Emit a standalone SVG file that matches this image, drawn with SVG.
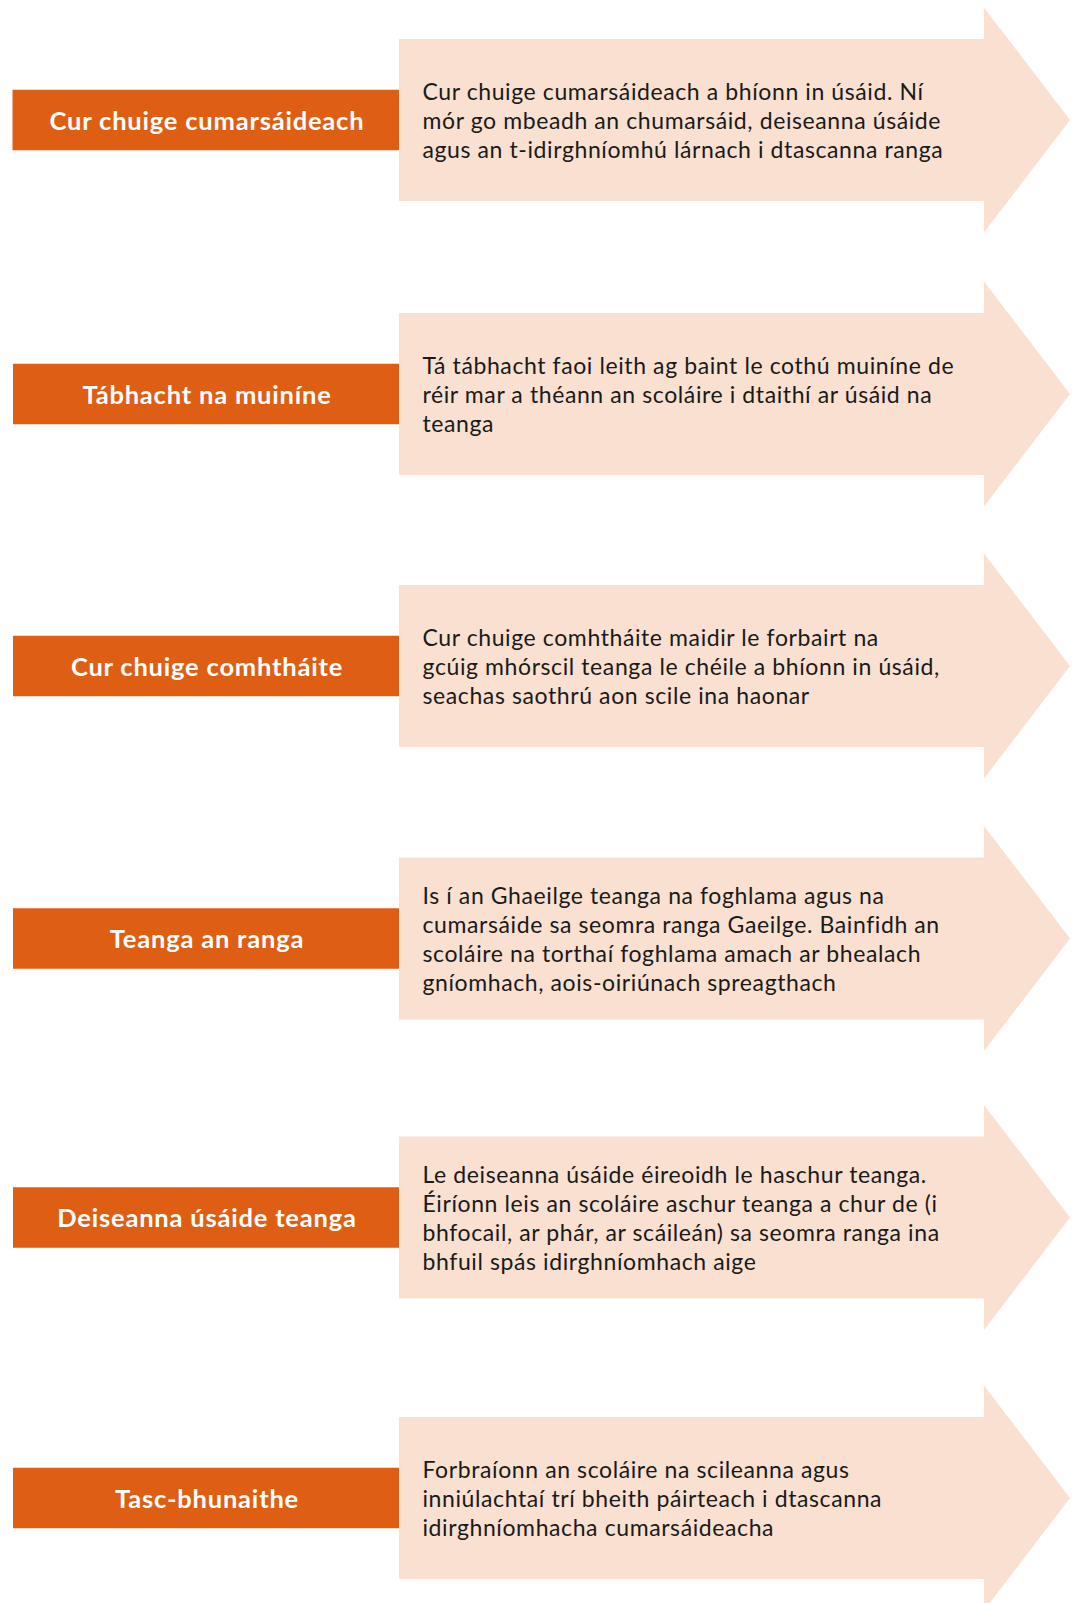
<svg xmlns="http://www.w3.org/2000/svg" width="1072" height="1603" viewBox="0 0 1072 1603">
<defs>
<style>
.arrow{fill:#F9E0D0}
.tag{fill:#DE5E13}
.lbl{font-family:Lato,"Liberation Sans",sans-serif;font-weight:700;font-size:25.5px;letter-spacing:0.8px;fill:#FFFFFF;text-anchor:middle}
.body{font-family:Lato,"Liberation Sans",sans-serif;font-size:23px;letter-spacing:0.6px;fill:#1A1A1A}
</style>
<path id="arrowShape" d="M399,-81 H984 V-112.5 L1070,0 L984,112.5 V81 H399 Z"/>
</defs>
<rect width="1072" height="1603" fill="#FFFFFF"/>

<g id="row1" transform="translate(0,120)">
<use href="#arrowShape" class="arrow"/>
<rect class="tag" x="12.5" y="-30.25" width="386.5" height="60.5"/>
<text class="lbl" x="207" y="9.5">Cur chuige cumarsáideach</text>
<text class="body" x="422.5"><tspan x="422.5" y="-20.5">Cur chuige cumarsáideach a bhíonn in úsáid. Ní</tspan><tspan x="422.5" y="8.5">mór go mbeadh an chumarsáid, deiseanna úsáide</tspan><tspan x="422.5" y="37.5">agus an t-idirghníomhú lárnach i dtascanna ranga</tspan></text>
</g>

<g id="row2" transform="translate(0,394)">
<use href="#arrowShape" class="arrow"/>
<rect class="tag" x="13" y="-30.25" width="386" height="60.5"/>
<text class="lbl" x="207" y="9.5">Tábhacht na muiníne</text>
<text class="body" x="422.5"><tspan x="422.5" y="-20.5">Tá tábhacht faoi leith ag baint le cothú muiníne de</tspan><tspan x="422.5" y="8.5">réir mar a théann an scoláire i dtaithí ar úsáid na</tspan><tspan x="422.5" y="37.5">teanga</tspan></text>
</g>

<g id="row3" transform="translate(0,666)">
<use href="#arrowShape" class="arrow"/>
<rect class="tag" x="13" y="-30.25" width="386" height="60.5"/>
<text class="lbl" x="207" y="9.5">Cur chuige comhtháite</text>
<text class="body" x="422.5"><tspan x="422.5" y="-20.5">Cur chuige comhtháite maidir le forbairt na</tspan><tspan x="422.5" y="8.5">gcúig mhórscil teanga le chéile a bhíonn in úsáid,</tspan><tspan x="422.5" y="37.5">seachas saothrú aon scile ina haonar</tspan></text>
</g>

<g id="row4" transform="translate(0,938.5)">
<use href="#arrowShape" class="arrow"/>
<rect class="tag" x="13" y="-30.25" width="386" height="60.5"/>
<text class="lbl" x="207" y="9.5">Teanga an ranga</text>
<text class="body" x="422.5"><tspan x="422.5" y="-35">Is í an Ghaeilge teanga na foghlama agus na</tspan><tspan x="422.5" y="-6">cumarsáide sa seomra ranga Gaeilge. Bainfidh an</tspan><tspan x="422.5" y="23">scoláire na torthaí foghlama amach ar bhealach</tspan><tspan x="422.5" y="52">gníomhach, aois-oiriúnach spreagthach</tspan></text>
</g>

<g id="row5" transform="translate(0,1217.5)">
<use href="#arrowShape" class="arrow"/>
<rect class="tag" x="13" y="-30.25" width="386" height="60.5"/>
<text class="lbl" x="207" y="9.5">Deiseanna úsáide teanga</text>
<text class="body" x="422.5"><tspan x="422.5" y="-35">Le deiseanna úsáide éireoidh le haschur teanga.</tspan><tspan x="422.5" y="-6">Éiríonn leis an scoláire aschur teanga a chur de (i</tspan><tspan x="422.5" y="23">bhfocail, ar phár, ar scáileán) sa seomra ranga ina</tspan><tspan x="422.5" y="52">bhfuil spás idirghníomhach aige</tspan></text>
</g>

<g id="row6" transform="translate(0,1498)">
<use href="#arrowShape" class="arrow"/>
<rect class="tag" x="13" y="-30.25" width="386" height="60.5"/>
<text class="lbl" x="207" y="9.5">Tasc-bhunaithe</text>
<text class="body" x="422.5"><tspan x="422.5" y="-20.5">Forbraíonn an scoláire na scileanna agus</tspan><tspan x="422.5" y="8.5">inniúlachtaí trí bheith páirteach i dtascanna</tspan><tspan x="422.5" y="37.5">idirghníomhacha cumarsáideacha</tspan></text>
</g>
</svg>
